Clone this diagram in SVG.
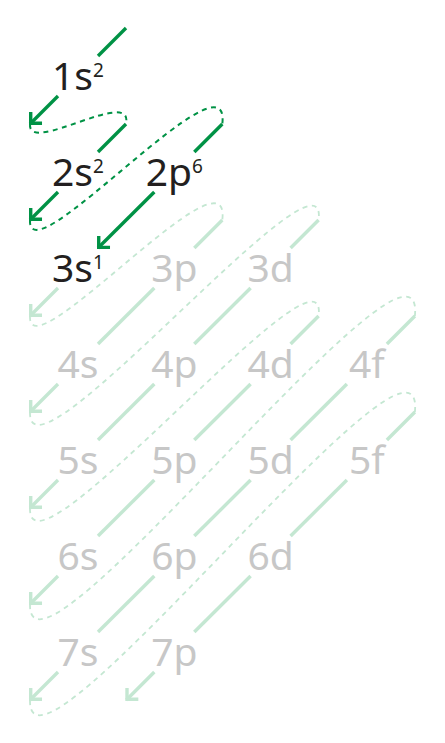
<svg xmlns="http://www.w3.org/2000/svg" width="445" height="743" viewBox="0 0 445 743">
<style>
  .lab { font-family: "Noto Sans", "Open Sans", "Liberation Sans", sans-serif; font-size: 39px; text-anchor: middle; }
  .on { fill: #231f20; }
  .off { fill: #c7c7c7; }
  .sup { font-size: 19px; }
  .sd { stroke: #009245; stroke-width: 3.4; fill: none; stroke-linecap: butt; }
  .sl { stroke: #c4e7d2; stroke-width: 3.4; fill: none; stroke-linecap: butt; }
  .dd { stroke: #009245; stroke-width: 2; fill: none; stroke-dasharray: 5 4.5; }
  .dl { stroke: #c4e7d2; stroke-width: 1.8; fill: none; stroke-dasharray: 5 4.5; }
  .ad { marker-end: url(#ah-d); }
  .al { marker-end: url(#ah-l); }
</style>
<defs>
  <marker id="ah-d" markerUnits="userSpaceOnUse" viewBox="-14 -12 18 24" refX="0" refY="0" markerWidth="18" markerHeight="24" orient="auto" overflow="visible">
    <path d="M-9,-8 L-1,0 L-9,8" fill="none" stroke="#009245" stroke-width="3.4" stroke-linejoin="miter"/>
  </marker>
  <marker id="ah-l" markerUnits="userSpaceOnUse" viewBox="-14 -12 18 24" refX="0" refY="0" markerWidth="18" markerHeight="24" orient="auto" overflow="visible">
    <path d="M-9,-8 L-1,0 L-9,8" fill="none" stroke="#c4e7d2" stroke-width="3.4" stroke-linejoin="miter"/>
  </marker>
</defs>
<g id="connectors">
  <line class="sd" x1="126" y1="28" x2="98" y2="56"/>
  <line class="sd ad" x1="58" y1="96" x2="30" y2="124"/>
  <line class="sd" x1="126" y1="124" x2="98" y2="152"/>
  <line class="sd ad" x1="58" y1="192" x2="30" y2="220"/>
  <line class="sd" x1="222.3" y1="124" x2="194.3" y2="152"/>
  <line class="sd ad" x1="154.3" y1="192" x2="98" y2="248"/>
  <line class="sl al" x1="58" y1="288" x2="30" y2="316"/>
  <line class="sl" x1="222.3" y1="220" x2="194.3" y2="248"/>
  <line class="sl" x1="154.3" y1="288" x2="98" y2="344"/>
  <line class="sl al" x1="58" y1="384" x2="30" y2="412"/>
  <line class="sl" x1="318.6" y1="220" x2="290.6" y2="248"/>
  <line class="sl" x1="250.6" y1="288" x2="194.3" y2="344"/>
  <line class="sl" x1="154.3" y1="384" x2="98" y2="440"/>
  <line class="sl al" x1="58" y1="480" x2="30" y2="508"/>
  <line class="sl" x1="318.6" y1="316" x2="290.6" y2="344"/>
  <line class="sl" x1="250.6" y1="384" x2="194.3" y2="440"/>
  <line class="sl" x1="154.3" y1="480" x2="98" y2="536"/>
  <line class="sl al" x1="58" y1="576" x2="30" y2="604"/>
  <line class="sl" x1="414.9" y1="316" x2="386.9" y2="344"/>
  <line class="sl" x1="346.9" y1="384" x2="290.6" y2="440"/>
  <line class="sl" x1="250.6" y1="480" x2="194.3" y2="536"/>
  <line class="sl" x1="154.3" y1="576" x2="98" y2="632"/>
  <line class="sl al" x1="58" y1="672" x2="30" y2="700"/>
  <line class="sl" x1="414.9" y1="412" x2="386.9" y2="440"/>
  <line class="sl" x1="346.9" y1="480" x2="290.6" y2="536"/>
  <line class="sl" x1="250.6" y1="576" x2="194.3" y2="632"/>
  <line class="sl al" x1="154.3" y1="672" x2="126.3" y2="700"/>
  <path class="dd" d="M30,124 C27,156 134,86 126,124"/>
  <path class="dd" d="M30,220 C27,280 232,44 222.3,124"/>
  <path class="dl" d="M30,316 C27,376 232,140 222.3,220"/>
  <path class="dl" d="M30,412 C27,497 330,130 318.6,220"/>
  <path class="dl" d="M30,508 C27,593 330,226 318.6,316"/>
  <path class="dl" d="M30,604 C27,714 427,191 414.9,316"/>
  <path class="dl" d="M30,700 C27,810 427,287 414.9,412"/>
</g>
<g id="n-1s"><text class="lab on" x="78" y="90">1s<tspan class="sup" dy="-13">2</tspan></text></g>
<g id="n-2s"><text class="lab on" x="78" y="186">2s<tspan class="sup" dy="-13">2</tspan></text></g>
<g id="n-2p"><text class="lab on" x="174.3" y="186">2p<tspan class="sup" dy="-13">6</tspan></text></g>
<g id="n-3s"><text class="lab on" x="78" y="282">3s<tspan class="sup" dy="-13">1</tspan></text></g>
<g id="n-3p"><text class="lab off" x="174.3" y="282">3p</text></g>
<g id="n-3d"><text class="lab off" x="270.6" y="282">3d</text></g>
<g id="n-4s"><text class="lab off" x="78" y="378">4s</text></g>
<g id="n-4p"><text class="lab off" x="174.3" y="378">4p</text></g>
<g id="n-4d"><text class="lab off" x="270.6" y="378">4d</text></g>
<g id="n-4f"><text class="lab off" x="366.9" y="378">4f</text></g>
<g id="n-5s"><text class="lab off" x="78" y="474">5s</text></g>
<g id="n-5p"><text class="lab off" x="174.3" y="474">5p</text></g>
<g id="n-5d"><text class="lab off" x="270.6" y="474">5d</text></g>
<g id="n-5f"><text class="lab off" x="366.9" y="474">5f</text></g>
<g id="n-6s"><text class="lab off" x="78" y="570">6s</text></g>
<g id="n-6p"><text class="lab off" x="174.3" y="570">6p</text></g>
<g id="n-6d"><text class="lab off" x="270.6" y="570">6d</text></g>
<g id="n-7s"><text class="lab off" x="78" y="666">7s</text></g>
<g id="n-7p"><text class="lab off" x="174.3" y="666">7p</text></g>
</svg>
